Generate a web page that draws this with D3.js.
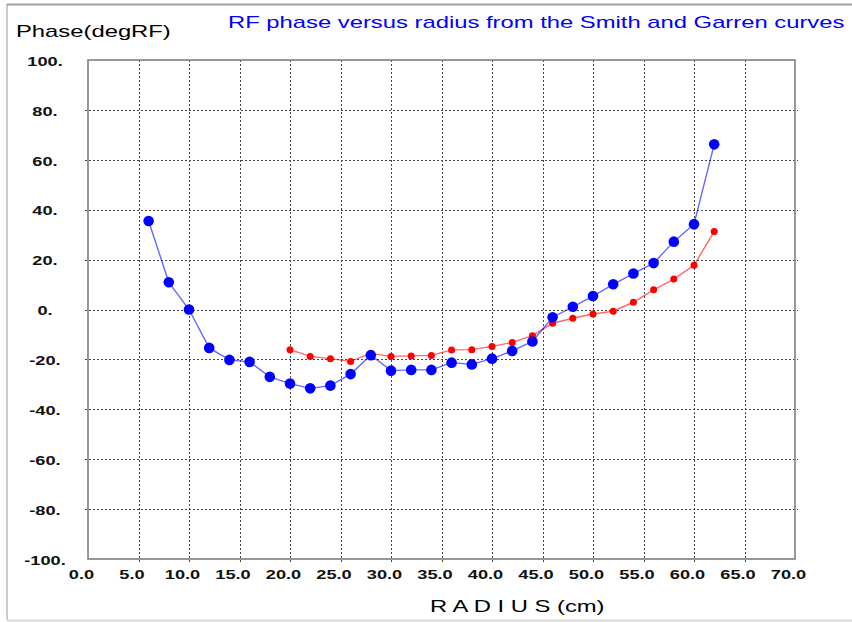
<!DOCTYPE html>
<html>
<head>
    <meta charset="utf-8" />
    <title>RF phase versus radius</title>
    <script src="https://d3js.org/d3.v7.min.js"></script>
    <style>
        body { margin: 0; background: white; }
        text { font-family: "Liberation Sans", Arial, sans-serif; }
    </style>
</head>
<body>
    <svg id="chart" width="852" height="622"></svg>
    <script>
        // blue curve (big dots)
        let blueRadius = [6, 8, 10, 12, 14, 16, 18, 20, 22, 24, 26, 28, 30, 32, 34, 36, 38, 40, 42, 44, 46, 48, 50, 52, 54, 56, 58, 60, 62];
        let bluePhase = [35.5, 10.9, 0, -15.4, -20.2, -21, -27, -29.7, -31.6, -30.5, -25.9, -18.3, -24.5, -24.2, -24.2, -21.3, -22, -19.7, -16.6, -12.8, -3.1, 1.1, 5.4, 10.1, 14.4, 18.6, 27.2, 34.2, 66.2];

        // red curve (small dots)
        let redRadius = [20, 22, 24, 26, 28, 30, 32, 34, 36, 38, 40, 42, 44, 46, 48, 50, 52, 54, 56, 58, 60, 62];
        let redPhase = [-16.1, -18.8, -19.7, -20.8, -17.6, -18.8, -18.6, -18.4, -16.2, -16.1, -14.8, -13.2, -10.5, -5.5, -3.5, -1.8, -0.7, 2.9, 7.9, 12.2, 17.7, 31.3];

        let xTicks = [0, 5, 10, 15, 20, 25, 30, 35, 40, 45, 50, 55, 60, 65, 70];
        let xTickLabels = ["0.0", "5.0", "10.0", "15.0", "20.0", "25.0", "30.0", "35.0", "40.0", "45.0", "50.0", "55.0", "60.0", "65.0", "70.0"];
        let yTicks = [100, 80, 60, 40, 20, 0, -20, -40, -60, -80, -100];
        let yTickLabels = ["100.", "80.", "60.", "40.", "20.", "0.", "-20.", "-40.", "-60.", "-80.", "-100."];

        let svg = d3.select("#chart");

        let x = d3.scaleLinear().domain([0, 70]).range([88, 795]);
        let y = d3.scaleLinear().domain([-100, 100]).range([559, 60]);

        // the source picture is stretched sideways, so text is too
        let SQUISH = 1.4;
        function stretch(sel) {
            sel.each(function () {
                let n = this.getComputedTextLength();
                d3.select(this).attr("textLength", n * SQUISH).attr("lengthAdjust", "spacingAndGlyphs");
            });
        }

        // outer window border
        svg.append("line").attr("x1", 7).attr("x2", 852).attr("y1", 4.5).attr("y2", 4.5)
            .style("stroke", "#a0a0a0").style("stroke-width", 2);
        svg.append("line").attr("x1", 7).attr("x2", 7).attr("y1", 4).attr("y2", 620)
            .style("stroke", "#999").style("stroke-width", 1);
        svg.append("line").attr("x1", 7).attr("x2", 852).attr("y1", 620.5).attr("y2", 620.5)
            .style("stroke", "#d8d8d8").style("stroke-width", 2);

        // grid
        let grid = svg.append("g");
        grid.selectAll(".hg")
            .data(yTicks.filter(d => d > -100 && d < 100))
            .enter().append("line")
            .attr("x1", x(0) - 3).attr("x2", x(70) + 3)
            .attr("y1", d => Math.round(y(d)) + 0.5).attr("y2", d => Math.round(y(d)) + 0.5)
            .style("stroke", "#444").style("stroke-width", 1).style("stroke-dasharray", "2,2");
        grid.selectAll(".vg")
            .data(xTicks.filter(d => d > 0 && d < 70))
            .enter().append("line")
            .attr("x1", d => Math.round(x(d)) + 0.5).attr("x2", d => Math.round(x(d)) + 0.5)
            .attr("y1", y(100)).attr("y2", y(-100) + 3)
            .style("stroke", "#444").style("stroke-width", 1).style("stroke-dasharray", "2,2");

        // plot frame
        svg.append("rect")
            .attr("x", x(0)).attr("y", y(100))
            .attr("width", x(70) - x(0)).attr("height", y(-100) - y(100))
            .style("fill", "none").style("stroke", "#808080").style("stroke-width", 1.6);

        // tick labels
        svg.selectAll(".xl")
            .data(xTicks)
            .enter().append("text")
            .attr("x", d => x(d) - 6.5).attr("y", 579)
            .attr("text-anchor", "middle")
            .style("font-size", "13px").style("font-weight", "bold").style("fill", "#111")
            .text((d, i) => xTickLabels[i])
            .call(stretch);

        svg.selectAll(".yl")
            .data(yTicks)
            .enter().append("text")
            .attr("x", 45).attr("y", d => y(d) + 5.7)
            .attr("text-anchor", "middle")
            .style("font-size", "13px").style("font-weight", "bold").style("fill", "#111")
            .text((d, i) => yTickLabels[i])
            .call(stretch);

        // titles
        svg.append("text").attr("x", 228).attr("y", 27.5)
            .style("font-size", "17px").style("fill", "#0000ff")
            .text("RF phase versus radius from the Smith and Garren curves")
            .call(stretch);
        svg.append("text").attr("x", 16).attr("y", 37)
            .style("font-size", "17px").style("fill", "#000")
            .text("Phase(degRF)")
            .call(stretch);
        svg.append("text").attr("x", 430).attr("y", 612)
            .style("font-size", "17px").style("fill", "#000")
            .text("R A D I U S (cm)")
            .call(stretch);

        // curves
        let line = d3.line().x(d => x(d[0])).y(d => y(d[1]));

        let redPts = redRadius.map((r, i) => [r, redPhase[i]]);
        let bluePts = blueRadius.map((r, i) => [r, bluePhase[i]]);

        svg.append("path").datum(redPts).attr("d", line)
            .style("fill", "none").style("stroke", "#ff0000").style("stroke-opacity", 0.6).style("stroke-width", 1.4);
        svg.selectAll(".rd")
            .data(redPts)
            .enter().append("circle")
            .attr("cx", d => x(d[0])).attr("cy", d => y(d[1])).attr("r", 3.5)
            .style("fill", "#ff0000");

        svg.append("path").datum(bluePts).attr("d", line)
            .style("fill", "none").style("stroke", "#0000ff").style("stroke-opacity", 0.6).style("stroke-width", 1.4);
        svg.selectAll(".bd")
            .data(bluePts)
            .enter().append("circle")
            .attr("cx", d => x(d[0])).attr("cy", d => y(d[1])).attr("r", 5.3)
            .style("fill", "#0000ff");
    </script>
</body>
</html>
